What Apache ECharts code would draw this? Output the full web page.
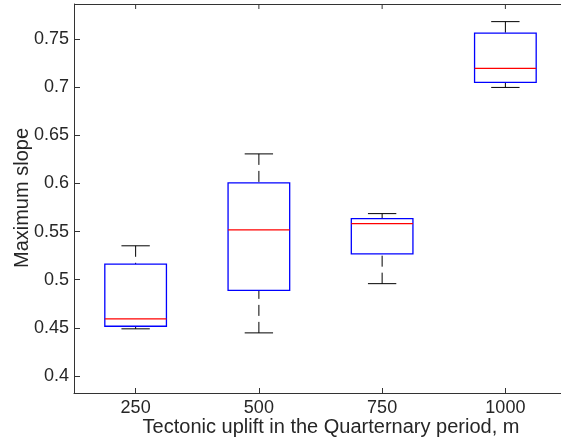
<!DOCTYPE html>
<html>
<head>
<meta charset="utf-8">
<script src="https://cdn.jsdelivr.net/npm/echarts@6/dist/echarts.min.js"></script>
<style>
html,body{margin:0;padding:0;background:#fff;overflow:hidden;}
#chart{width:561px;height:438px;}
</style>
</head>
<body>
<div id="chart"></div>
<script>
var categories = ['250', '500', '750', '1000'];
var lowerWhisker = [0.4490, 0.4448, 0.4959, 0.6996];
var q1 = [0.4517, 0.4889, 0.5269, 0.7048];
var median = [0.4593, 0.5518, 0.5583, 0.7193];
var q3 = [0.5162, 0.6006, 0.5635, 0.7559];
var upperWhisker = [0.5352, 0.6306, 0.5686, 0.7679];
var yTicks = [0.4, 0.45, 0.5, 0.55, 0.6, 0.65, 0.7, 0.75];
var xTitle = 'Tectonic uplift in the Quarternary period, m';
var yTitle = 'Maximum slope';

var FONT = 'Liberation Sans, Arial, Helvetica, sans-serif';
var AX = '#333333';
var TXT = '#262626';

var data = categories.map(function (c, i) {
  return [i, lowerWhisker[i], q1[i], median[i], q3[i], upperWhisker[i]];
});

function renderItem(params, api) {
  var x = api.value(0);
  var band = api.size([1, 0])[0];
  var cs = params.coordSys;
  var cx = api.coord([x, api.value(3)])[0];
  var yLo = api.coord([x, api.value(1)])[1];
  var yQ1 = api.coord([x, api.value(2)])[1];
  var yMed = api.coord([x, api.value(3)])[1];
  var yQ3 = api.coord([x, api.value(4)])[1];
  var yHi = api.coord([x, api.value(5)])[1];
  var bw = band * 0.25;
  var cw = band * 0.115;
  var dash = { stroke: '#000', lineWidth: 1, lineDash: [11, 6] };
  var solid = { stroke: '#000', lineWidth: 1 };
  var children = [
    { type: 'line', shape: { x1: cx, y1: cs.y, x2: cx, y2: cs.y + 5 }, style: { stroke: AX, lineWidth: 1 } },
    { type: 'line', shape: { x1: cx, y1: yHi, x2: cx, y2: yQ3 }, style: dash },
    { type: 'line', shape: { x1: cx, y1: yLo, x2: cx, y2: yQ1 }, style: dash },
    { type: 'line', shape: { x1: cx - cw, y1: yHi, x2: cx + cw, y2: yHi }, style: solid },
    { type: 'line', shape: { x1: cx - cw, y1: yLo, x2: cx + cw, y2: yLo }, style: solid },
    { type: 'rect', shape: { x: cx - bw, y: yQ3, width: 2 * bw, height: yQ1 - yQ3 },
      style: { fill: 'none', stroke: '#0000ff', lineWidth: 1.3 } },
    { type: 'line', shape: { x1: cx - bw, y1: yMed, x2: cx + bw, y2: yMed },
      style: { stroke: '#ff0000', lineWidth: 1.3 } }
  ];
  if (params.dataIndex === 0) {
    children.push({ type: 'line', shape: { x1: cs.x, y1: cs.y + 0.5, x2: cs.x + cs.width, y2: cs.y + 0.5 },
      style: { stroke: AX, lineWidth: 1 } });
  }
  return { type: 'group', children: children };
}

var chart = echarts.init(document.getElementById('chart'), null, { renderer: 'canvas' });
chart.setOption({
  animation: false,
  backgroundColor: '#ffffff',
  grid: { left: 74, top: 4, width: 493, height: 389, containLabel: false, outerBoundsMode: 'none' },
  xAxis: [{
    type: 'category',
    data: categories,
    position: 'bottom',
    boundaryGap: true,
    axisLine: { show: true, lineStyle: { color: AX, width: 1 } },
    axisTick: { show: true, inside: true, alignWithLabel: true, length: 5, lineStyle: { color: AX } },
    axisLabel: { color: TXT, fontSize: 18, fontFamily: FONT, margin: 6 },
    splitLine: { show: false }
  }],
  yAxis: [{
    type: 'value',
    min: 0.3824,
    max: 0.7862,
    position: 'left',
    axisLine: { show: true, lineStyle: { color: AX, width: 1 } },
    axisTick: { show: true, inside: true, length: 6, customValues: yTicks, lineStyle: { color: AX } },
    axisLabel: { color: TXT, fontSize: 18, fontFamily: FONT, margin: 5, customValues: yTicks,
      formatter: function (v) { return String(+v.toFixed(2)); } },
    splitLine: { show: false }
  }],
  graphic: [{
    type: 'text',
    x: 331,
    y: 427,
    style: { text: xTitle, fill: TXT, font: '20px ' + FONT, textAlign: 'center', textVerticalAlign: 'middle' }
  }, {
    type: 'text',
    x: 22,
    y: 198,
    rotation: Math.PI / 2,
    style: { text: yTitle, fill: TXT, font: '20px ' + FONT, textAlign: 'center', textVerticalAlign: 'middle' }
  }],
  series: [{
    type: 'custom',
    xAxisIndex: 0,
    yAxisIndex: 0,
    renderItem: renderItem,
    encode: { x: 0, y: [1, 2, 3, 4, 5] },
    data: data,
    clip: false
  }]
});
</script>
</body>
</html>
